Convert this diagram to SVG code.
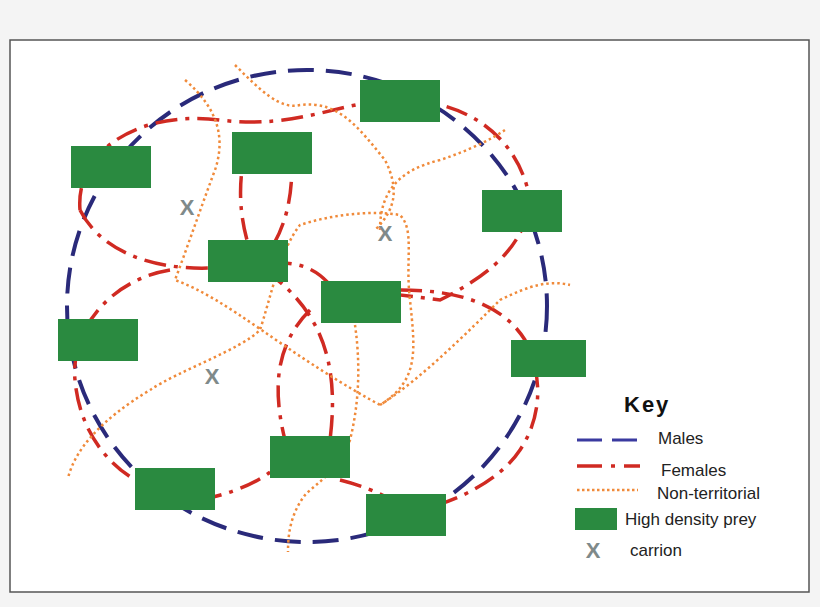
<svg xmlns="http://www.w3.org/2000/svg" width="820" height="607" viewBox="0 0 820 607">
<style>
.m{fill:none;stroke:#2a2a7a;stroke-width:4;stroke-dasharray:26 12}
.f{fill:none;stroke:#d02a22;stroke-width:3.5;stroke-dasharray:22 8 4 8}
.n{fill:none;stroke:#f08a3a;stroke-width:2.5;stroke-dasharray:2.5 3}
.p{fill:#2a8a40}
.x{font-family:"Liberation Sans",Arial,sans-serif;font-size:22px;font-weight:bold;fill:#7f8a8a}
.t{font-family:"Liberation Sans",Arial,sans-serif;font-size:17px;fill:#222}
</style>
<rect x="0" y="0" width="820" height="607" fill="#f4f4f4"/>
<rect x="10" y="40" width="799" height="552" fill="#fff" stroke="#555" stroke-width="1.5"/>
<g id="connectors">
<ellipse class="m" cx="307" cy="306" rx="240" ry="236"/>
<path class="f" d="M80 210 C75 150 140 110 220 120 C300 130 340 100 400 100 C470 100 520 140 530 200"/>
<path class="f" d="M80 210 C100 250 150 270 210 268 C260 266 300 250 330 285"/>
<path class="f" d="M250 135 C235 180 240 220 250 250 M290 140 C295 180 290 220 270 250"/>
<path class="f" d="M530 200 C525 240 500 270 440 300 L360 290 L330 285"/>
<path class="f" d="M170 270 C110 280 70 330 75 380 C80 440 120 480 160 490"/>
<path class="f" d="M200 500 C250 490 280 470 290 450 M340 480 C380 490 400 505 410 510"/>
<path class="f" d="M400 290 C450 290 500 300 525 340 C545 380 540 420 520 450 C500 480 460 500 420 510"/>
<path class="f" d="M265 270 C320 310 340 360 330 440 M310 310 C280 340 270 380 285 440"/>
<path class="n" d="M235 65 C260 90 280 110 300 105 C340 100 360 130 385 160 C400 190 395 210 375 230"/>
<path class="n" d="M185 80 C220 110 225 140 215 170 C200 210 190 240 175 280 C230 300 280 350 380 405 C420 380 415 350 410 300 C405 260 415 230 400 215 C370 210 330 215 300 225 C280 250 270 300 260 330 C240 350 180 370 150 390 C100 420 75 450 68 478"/>
<path class="n" d="M380 230 C380 190 400 170 440 160 C470 150 490 140 505 130"/>
<path class="n" d="M380 405 C420 380 470 330 500 300 C530 285 550 280 570 285"/>
<path class="n" d="M355 325 C360 360 360 400 350 440 C340 470 320 480 305 495 C290 515 288 535 288 552"/>
</g>
<g id="prey">
<rect class="p" x="360" y="80" width="80" height="42"/>
<rect class="p" x="232" y="132" width="80" height="42"/>
<rect class="p" x="71" y="146" width="80" height="42"/>
<rect class="p" x="482" y="190" width="80" height="42"/>
<rect class="p" x="208" y="240" width="80" height="42"/>
<rect class="p" x="321" y="281" width="80" height="42"/>
<rect class="p" x="58" y="319" width="80" height="42"/>
<rect class="p" x="511" y="340" width="75" height="37"/>
<rect class="p" x="270" y="436" width="80" height="42"/>
<rect class="p" x="135" y="468" width="80" height="42"/>
<rect class="p" x="366" y="494" width="80" height="42"/>
</g>
<g id="carrion">
<text class="x" x="187" y="215" text-anchor="middle">X</text>
<text class="x" x="385" y="241" text-anchor="middle">X</text>
<text class="x" x="212" y="384" text-anchor="middle">X</text>
</g>
<g id="key">
<text x="624" y="412" font-family="Liberation Sans,Arial,sans-serif" font-size="22" font-weight="bold" fill="#111" letter-spacing="2">Key</text>
<path d="M577 440 H602 M612 440 H637" stroke="#3a3aa0" stroke-width="3"/>
<text class="t" x="658" y="444">Males</text>
<path d="M577 466 H602 M611 466 H615 M624 466 H640" stroke="#d02a22" stroke-width="3.5"/>
<text class="t" x="661" y="476">Females</text>
<path d="M577 490 H638" stroke="#f08a3a" stroke-width="2.5" stroke-dasharray="2.5 2.5"/>
<text class="t" x="657" y="499">Non-territorial</text>
<rect class="p" x="575" y="508" width="42" height="22"/>
<text class="t" x="625" y="525">High density prey</text>
<text class="x" x="593" y="558" text-anchor="middle">X</text>
<text class="t" x="630" y="556">carrion</text>
</g>
</svg>
